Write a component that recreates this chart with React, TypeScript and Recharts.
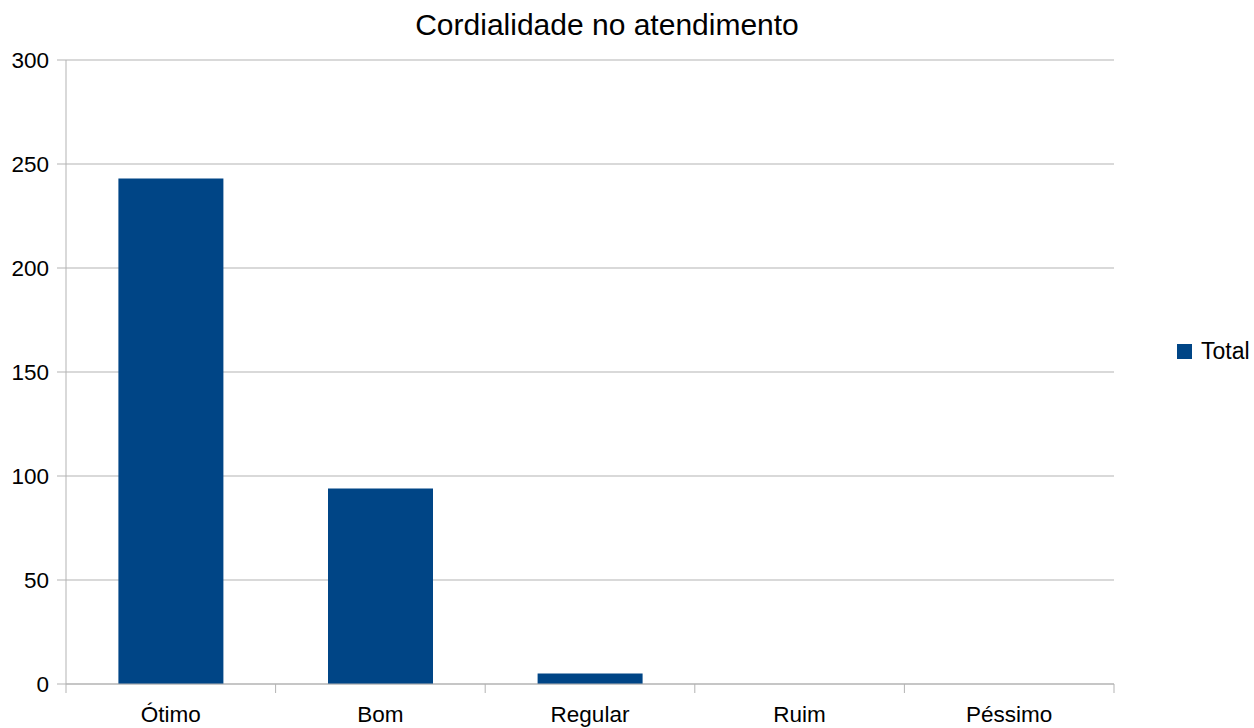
import React from 'react';
import { BarChart, Bar, XAxis, YAxis, CartesianGrid } from 'recharts';

const categories = ['Ótimo', 'Bom', 'Regular', 'Ruim', 'Péssimo'];
const totals = [243, 94, 5, 0, 0];
const yTicks = [0, 50, 100, 150, 200, 250, 300];

const data = categories.map((c, i) => ({ name: c, Total: totals[i] }));

const W = 1254;
const H = 728;
const M = { top: 60, right: 140, bottom: 0, left: 0 };
const Y_W = 66;
const X_H = 44;
const GRID = '#b3b3b3';
const BAR = '#004586';
const FONT = '"Liberation Sans", Arial, sans-serif';
const band = (W - M.left - M.right - Y_W) / categories.length;

const XTick = (props: any) => {
  const { x, y, payload, index } = props;
  return (
    <g>
      <line x1={x - band / 2} x2={x - band / 2} y1={y} y2={y + 9} stroke={GRID} />
      {index === categories.length - 1 && (
        <line x1={x + band / 2} x2={x + band / 2} y1={y} y2={y + 9} stroke={GRID} />
      )}
      <text x={x} y={y + 38} textAnchor="middle" fill="#000" fontSize={22.5} fontFamily={FONT}>
        {payload.value}
      </text>
    </g>
  );
};

export default function App() {
  return (
    <div style={{ position: 'absolute', left: 0, top: 0, width: W, height: H, background: '#fff' }}>
      <div
        style={{
          position: 'absolute',
          left: 607,
          top: 8,
          transform: 'translateX(-50%)',
          fontFamily: FONT,
          fontSize: 30,
          color: '#000',
          whiteSpace: 'nowrap',
        }}
      >
        Cordialidade no atendimento
      </div>
      <div
        style={{
          position: 'absolute',
          left: 1177,
          top: 338,
          display: 'flex',
          alignItems: 'center',
          fontFamily: FONT,
          fontSize: 23,
          color: '#000',
        }}
      >
        <span style={{ display: 'inline-block', width: 15, height: 15, background: BAR, marginRight: 9 }} />
        <span>Total</span>
      </div>
      <BarChart width={W} height={H} data={data} margin={M} barCategoryGap="25%" style={{ fontFamily: FONT }}>
        <CartesianGrid stroke={GRID} vertical={false} />
        <XAxis
          dataKey="name"
          height={X_H}
          axisLine={{ stroke: GRID }}
          tickLine={false}
          tickSize={0}
          tickMargin={0}
          tick={<XTick />}
          interval={0}
        />
        <YAxis
          domain={[0, 300]}
          ticks={yTicks}
          width={Y_W}
          axisLine={{ stroke: GRID }}
          tickLine={{ stroke: GRID }}
          tickSize={9}
          tickMargin={8}
          tick={{ fill: '#000', fontSize: 22.5, fontFamily: FONT }}
        />
        <YAxis yAxisId="r" orientation="right" width={0} tick={false} tickLine={false} axisLine={{ stroke: GRID }} />
        <Bar dataKey="Total" fill={BAR} isAnimationActive={false} />
      </BarChart>
    </div>
  );
}
